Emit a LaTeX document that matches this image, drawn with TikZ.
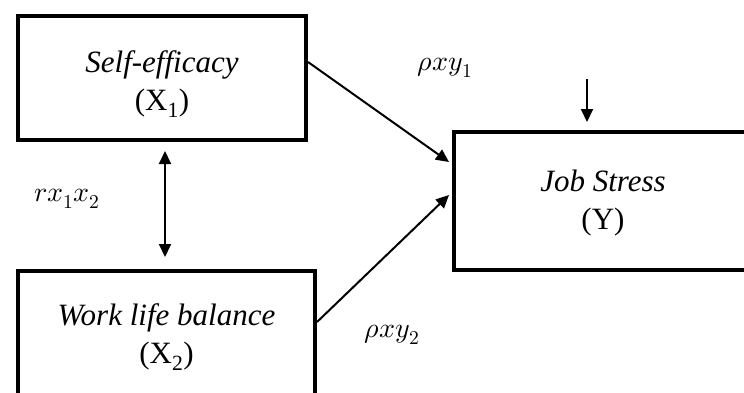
\documentclass[tikz,border=0pt]{standalone}
\usepackage{unicode-math}
\setmainfont{Liberation Serif}
\setmathfont{Latin Modern Math}
\usetikzlibrary{arrows.meta,positioning,calc}
\tikzset{
  varbox/.style={draw=black, line width=4pt, rectangle, inner sep=0pt},
  vartext/.style={align=center, font=\fontsize{31}{38}\selectfont, inner sep=0pt},
  path/.style={line width=2pt, -{Triangle[length=13pt,width=12pt]}},
  dpath/.style={line width=2pt, {Triangle[length=13pt,width=12pt]}-{Triangle[length=13pt,width=12pt]}},
  coef/.style={font=\fontsize{28}{32}\selectfont, inner sep=0pt}
}
\begin{document}
\begin{tikzpicture}[x=1pt,y=1pt]
\useasboundingbox (0,0) rectangle (744,392);
\clip (0,0) rectangle (744,392);
\node[varbox, minimum width=288pt, minimum height=124pt] (X1) at (162,314) {};
\node[vartext] (X1t) at (162,308) {\textit{Self-efficacy}\\(X\textsubscript{1})};
\node[varbox, minimum width=297pt, minimum height=134pt] (X2) at (166.5,54) {};
\node[vartext] (X2t) at (166.5,55) {\textit{Work life balance}\\(X\textsubscript{2})};
\node[varbox, minimum width=298pt, minimum height=138pt] (Y) at (603,191) {};
\node[vartext] (Yt) at (603,189) {\textit{Job Stress}\\(Y)};
\draw[path] ([yshift=16pt]X1.east) -- ([yshift=39pt,xshift=-3pt]Y.west);
\draw[path] ([yshift=16pt]X2.east) -- ([yshift=6pt,xshift=-3pt]Y.west);
\coordinate (a1) at (165,241);
\coordinate (a2) at (165,135);
\draw[dpath] (a1) -- (a2);
\coordinate (e) at (587,313);
\draw[path] (e) -- (587,270);
\node[coef] (p1) at (445,324) {$\rho x y_1$};
\node[coef] (p2) at (392,57) {$\rho x y_2$};
\node[coef] (r) at (67,193) {$r x_1 x_2$};
\end{tikzpicture}
\end{document}
